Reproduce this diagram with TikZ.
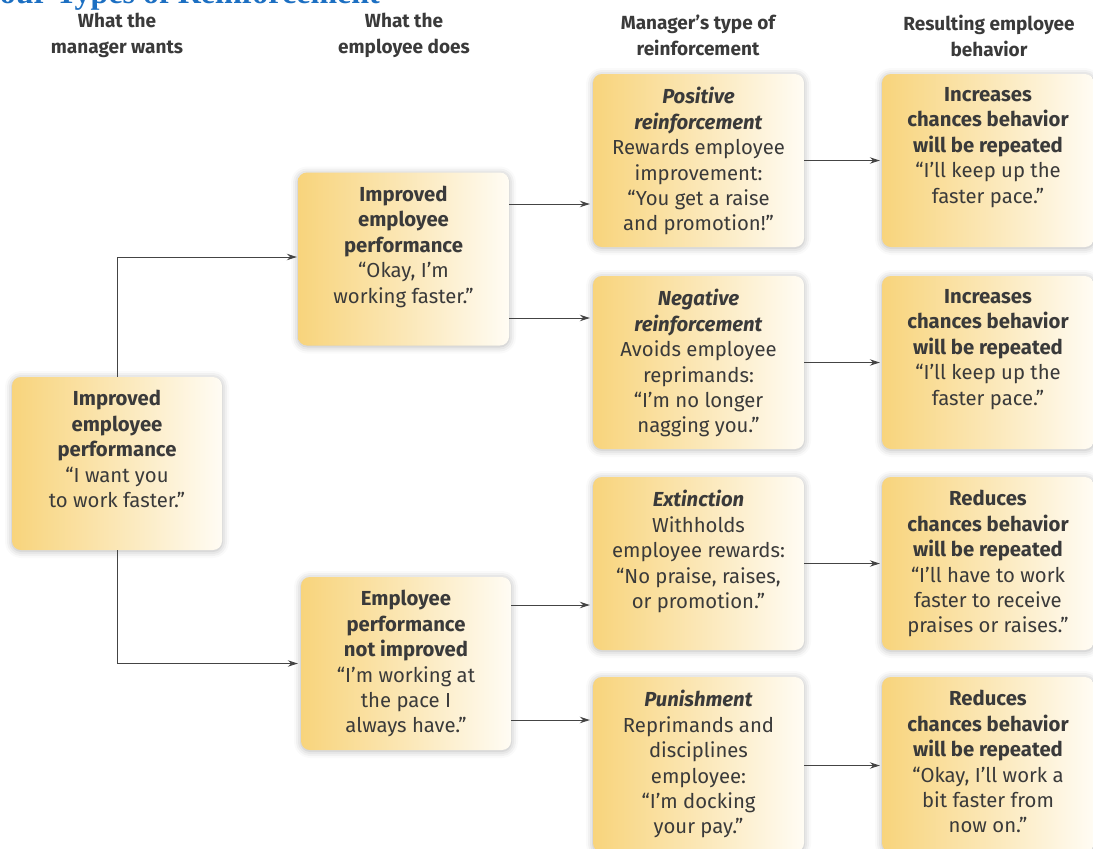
\documentclass[tikz,border=0pt]{standalone}
\usepackage{fontspec}
\setmainfont{Fira Sans}
\newfontfamily\titlefont{Liberation Serif}
\usetikzlibrary{arrows.meta,shadows.blur}
\definecolor{txt}{HTML}{3A3A3A}
\definecolor{linec}{HTML}{444444}
\definecolor{boxL}{HTML}{F8D47C}
\definecolor{boxM}{HTML}{FBE7B6}
\definecolor{boxR}{HTML}{FFFCF4}
\definecolor{titleblue}{HTML}{1C6FC2}
\begin{document}
\begin{tikzpicture}[x=1pt,y=-1pt,
  box/.style={rounded corners=9pt, left color=boxL, right color=boxR, middle color=boxM,
    minimum width=211pt, minimum height=173pt, inner sep=0pt,
    blur shadow={shadow xshift=0pt, shadow yshift=-1pt, shadow blur radius=7pt, shadow opacity=30}},
  btext/.style={anchor=north, inner sep=0pt, align=center, text=txt,
    font=\fontsize{20.3}{25.4}\selectfont},
  head/.style={align=center, text=txt, inner sep=0pt,
    font=\fontsize{19}{26}\selectfont\bfseries},
  conn/.style={draw=linec, line width=1pt, -{Stealth[length=10pt,width=6.5pt]}},
]
\useasboundingbox (0,0) rectangle (1093,849);
\clip (0,0) rectangle (1093,849);

% title (cut off at top, as in the reference)
\node[anchor=base west, inner sep=0pt, text=titleblue,
  font=\fontsize{32}{32}\titlefont\bfseries] (title) at (-20,3.5) {Four Types of Reinforcement};

% headers
\node[head] (h1) at (117,35.5) {What the\\manager wants};
\node[head] (h2) at (404,35.5) {What the\\employee does};
\node[head] (h3) at (698,35.5) {Manager’s type of\\reinforcement};
\node[head] (h4) at (989,35.5) {Resulting employee\\behavior};

% boxes
\node[box, minimum width=210pt] (L) at (117,463.5) {};
\node[box] (B2) at (403.5,259) {};
\node[box, minimum width=210pt] (B3) at (406,663.5) {};
\node[box] (P) at (698.5,160.5) {};
\node[box] (N) at (698.5,362.5) {};
\node[box] (E) at (698.5,563.5) {};
\node[box, minimum height=175pt] (U) at (698.5,764.5) {};
\node[box, minimum width=212pt] (P4) at (988,160.5) {};
\node[box, minimum width=212pt] (N4) at (988,362.5) {};
\node[box, minimum width=212pt] (E4) at (988,563.5) {};
\node[box, minimum width=212pt, minimum height=175pt] (U4) at (988,764.5) {};

% texts
\node[btext] (Lt) at ([yshift=-13.5pt]L.north) {\textbf{Improved}\\\textbf{employee}\\\textbf{performance}\\“I want you\\to work faster.”};
\node[btext] (B2t) at ([yshift=-13.5pt]B2.north) {\textbf{Improved}\\\textbf{employee}\\\textbf{performance}\\“Okay, I’m\\working faster.”};
\node[btext] (B3t) at ([yshift=-13.5pt]B3.north) {\textbf{Employee}\\\textbf{performance}\\\textbf{not improved}\\“I’m working at\\the pace I\\always have.”};
\node[btext] (Pt) at ([yshift=-13.5pt]P.north) {\textbf{\textit{Positive}}\\\textbf{\textit{reinforcement}}\\Rewards employee\\improvement:\\“You get a raise\\and promotion!”};
\node[btext] (Nt) at ([yshift=-13.5pt]N.north) {\textbf{\textit{Negative}}\\\textbf{\textit{reinforcement}}\\Avoids employee\\reprimands:\\“I’m no longer\\nagging you.”};
\node[btext] (Et) at ([yshift=-13.5pt]E.north) {\textbf{\textit{Extinction}}\\Withholds\\employee rewards:\\“No praise, raises,\\or promotion.”};
\node[btext] (Ut) at ([yshift=-13.5pt]U.north) {\textbf{\textit{Punishment}}\\Reprimands and\\disciplines\\employee:\\“I’m docking\\your pay.”};
\node[btext] (P4t) at ([yshift=-13.5pt]P4.north) {\textbf{Increases}\\\textbf{chances behavior}\\\textbf{will be repeated}\\“I’ll keep up the\\faster pace.”};
\node[btext] (N4t) at ([yshift=-13.5pt]N4.north) {\textbf{Increases}\\\textbf{chances behavior}\\\textbf{will be repeated}\\“I’ll keep up the\\faster pace.”};
\node[btext] (E4t) at ([yshift=-13.5pt]E4.north) {\textbf{Reduces}\\\textbf{chances behavior}\\\textbf{will be repeated}\\“I’ll have to work\\faster to receive\\praises or raises.”};
\node[btext] (U4t) at ([yshift=-13.5pt]U4.north) {\textbf{Reduces}\\\textbf{chances behavior}\\\textbf{will be repeated}\\“Okay, I’ll work a\\bit faster from\\now on.”};

% connectors
\draw[conn, shorten >=1pt] (L.north) |- ([yshift=2pt]B2.west);
\draw[conn, shorten >=3pt] (L.south) |- (B3.west);
\draw[conn, shorten >=3pt] ([yshift=55pt]B2.east) -- ([yshift=55pt]B2.east -| P.west);
\draw[conn, shorten >=3pt] ([yshift=-59pt]B2.east) -- ([yshift=-59pt]B2.east -| N.west);
\draw[conn, shorten >=3pt] ([yshift=58.5pt]B3.east) -- ([yshift=58.5pt]B3.east -| E.west);
\draw[conn, shorten >=3pt] ([yshift=-56.5pt]B3.east) -- ([yshift=-56.5pt]B3.east -| U.west);
\draw[conn, shorten >=2pt] (P.east) -- (P4.west);
\draw[conn, shorten >=2pt] (N.east) -- (N4.west);
\draw[conn, shorten >=2pt] (E.east) -- (E4.west);
\draw[conn, shorten >=2pt] ([yshift=-1pt]U.east) -- ([yshift=-1pt]U.east -| U4.west);
\end{tikzpicture}
\end{document}
